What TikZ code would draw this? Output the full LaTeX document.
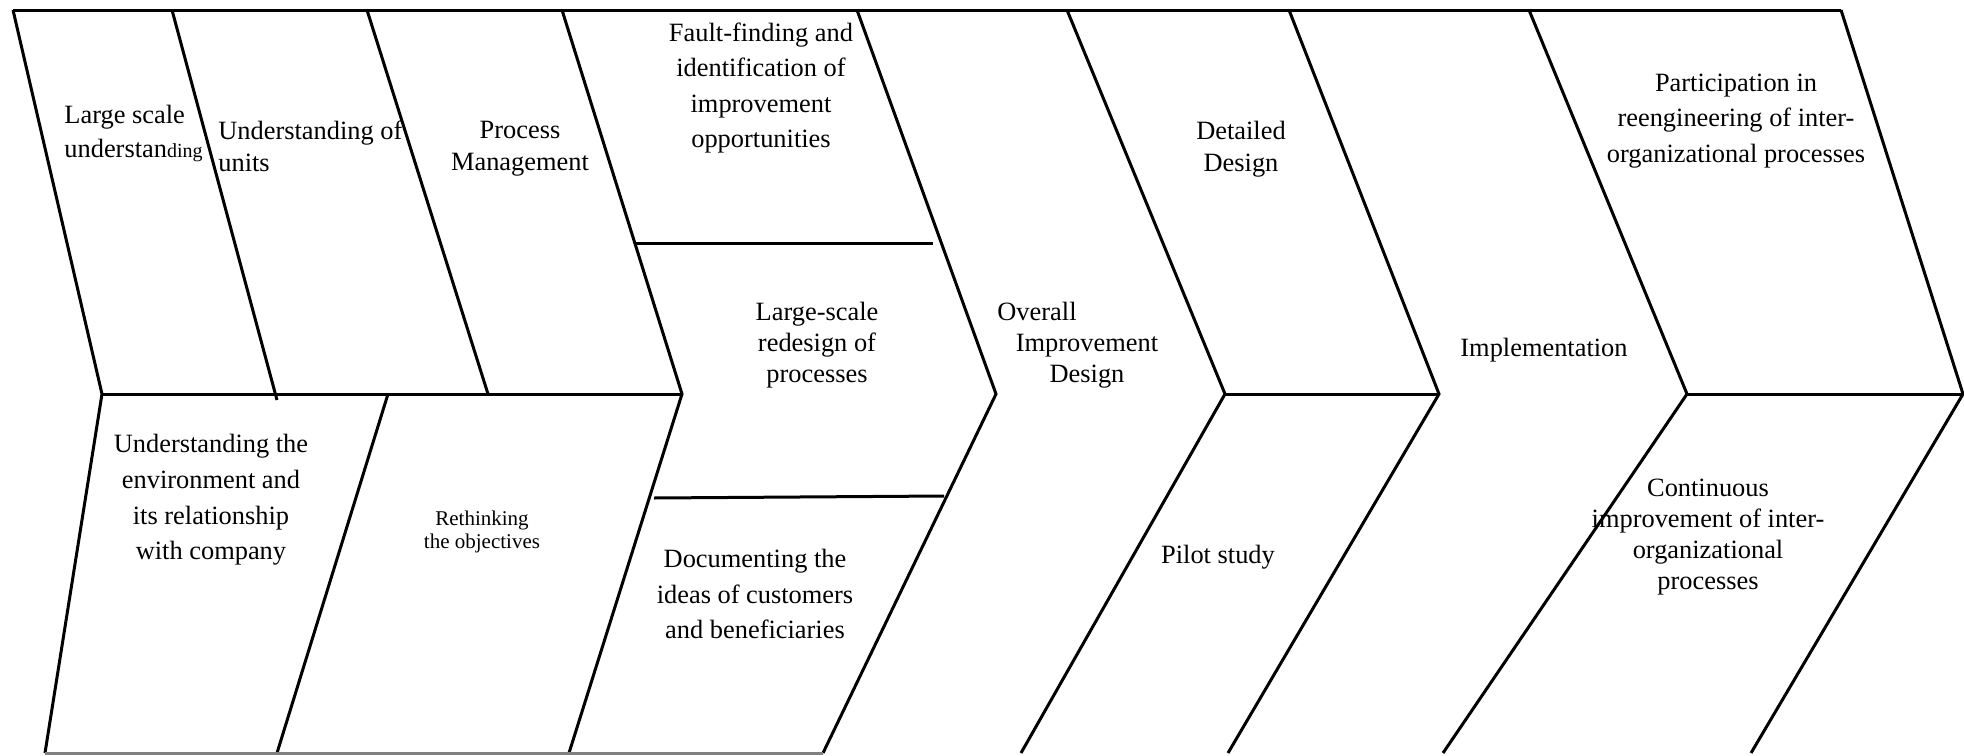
\documentclass[tikz,border=0pt]{standalone}
\usepackage{fontspec}
\setmainfont{Liberation Serif}
\begin{document}
\begin{tikzpicture}[x=0.5pt,y=-0.5pt,
  edge/.style={line width=1.5pt, line join=miter, line cap=butt},
  lbl/.style={inner sep=0pt, align=center, font=\fontsize{13.2}{17}\selectfont},
  lbltight/.style={inner sep=0pt, align=center, font=\fontsize{13.2}{15.5}\selectfont},
  lblmid/.style={inner sep=0pt, align=center, font=\fontsize{13.2}{16}\selectfont},
  lblwide/.style={inner sep=0pt, align=center, font=\fontsize{13.2}{17.8}\selectfont},
  lblsmall/.style={inner sep=0pt, align=center, font=\fontsize{10.5}{11.5}\selectfont}]
\useasboundingbox (0,0) rectangle (1964,755);
% key points
\coordinate (t0) at (13,10);   \coordinate (m0) at (102,394);  \coordinate (b0) at (45,753);
\coordinate (t1) at (172,10);  \coordinate (m1) at (277,400);
\coordinate (t2) at (367,10);  \coordinate (m2) at (488,394);
\coordinate (q1) at (388,394); \coordinate (b1) at (277,753);
\coordinate (t3) at (562,10);  \coordinate (m3) at (682,394);  \coordinate (b3) at (569,753);
\coordinate (t4) at (857,10);  \coordinate (m4) at (996,394);  \coordinate (b4) at (823,753);
\coordinate (t5) at (1067,10); \coordinate (m5) at (1225,394); \coordinate (b5) at (1021,753);
\coordinate (t6) at (1289,10); \coordinate (m6) at (1439,394); \coordinate (b6) at (1228,753);
\coordinate (t7) at (1529,10); \coordinate (m7) at (1687,394); \coordinate (b7) at (1443,753);
\coordinate (t8) at (1841,10); \coordinate (m8) at (1963,394); \coordinate (b8) at (1751,753);
\coordinate (d1a) at (636,243); \coordinate (d1b) at (933,243);
\coordinate (d2a) at (654,498); \coordinate (d2b) at (944,496);
% outline
\draw[edge] (t0) -- (t8);
\draw[edge] (t0) -- (m0) -- (b0);
\draw[edge] (t1) -- (m1);
\draw[edge] (t2) -- (m2);
\draw[edge] (q1) -- (b1);
\draw[edge] (t3) -- (m3) -- (b3);
\draw[edge] (t4) -- (m4) -- (b4);
\draw[edge] (t5) -- (m5) -- (b5);
\draw[edge] (t6) -- (m6) -- (b6);
\draw[edge] (t7) -- (m7) -- (b7);
\draw[edge] (t8) -- (m8) -- (b8);
\draw[edge] (m0) -- (m3);
\draw[edge] (m5) -- (m6);
\draw[edge] (m7) -- (m8);
\draw[edge] (d1a) -- (d1b);
\draw[edge] (d2a) -- (d2b);
\draw[edge, gray] (b0) -- (b4);
% labels
\node[lbl, align=left, anchor=west] (n1) at (64,133) {Large scale\\understan{\fontsize{10}{12}\selectfont ding}};
\node[lblmid, align=left, anchor=west] (n2) at (218,146) {Understanding of\\units};
\node[lblmid] (n3) at (520,149) {Process\\Management};
\node[lblwide] (n4) at (761,88) {Fault-finding and\\identification of\\improvement\\opportunities};
\node[lbltight] (n5) at (817,345) {Large-scale\\redesign of\\processes};
\node[lbltight] (n6) at (1087,345) {Overall\hspace*{50pt}\\Improvement\\Design};
\node[lblmid] (n7) at (1241,149) {Detailed\\Design};
\node[lbl] (n8) at (1218,557) {Pilot study};
\node[lbl] (n9) at (1544,350) {Implementation};
\node[lblwide] (n10) at (1736,121) {Participation in\\reengineering of inter-\\organizational processes};
\node[lbltight] (n11) at (1708,537) {Continuous\\improvement of inter-\\organizational\\processes};
\node[lblwide] (n12) at (211,500) {Understanding the\\environment and\\its relationship\\with company};
\node[lblsmall] (n13) at (482,532) {Rethinking\\the objectives};
\node[lblwide] (n14) at (755,594) {Documenting the\\ideas of customers\\and beneficiaries};
\end{tikzpicture}
\end{document}
